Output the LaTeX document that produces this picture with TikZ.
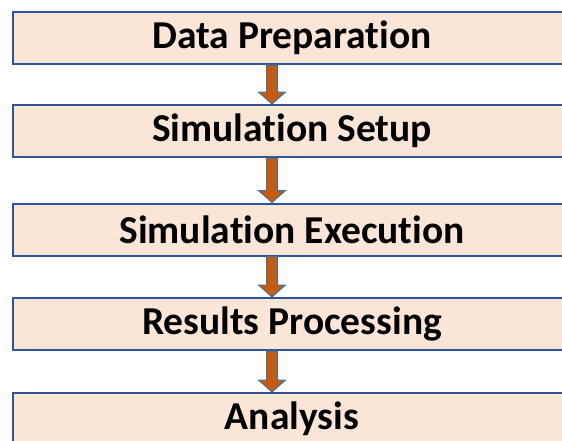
\documentclass[tikz,border=0pt]{standalone}
\usepackage{fontspec}
\setmainfont[Ligatures=NoCommon]{Carlito}
\usetikzlibrary{calc}
\definecolor{boxfill}{HTML}{FBE5D6}
\definecolor{boxline}{HTML}{2F5597}
\definecolor{arrowfill}{HTML}{C55A11}
\definecolor{arrowline}{HTML}{41719C}
\newcommand{\flowarrow}[2]{%
  \draw [flow] let \p1=($(#1.south)+(-20,0)$), \p2=($(#2.north)+(-20,0)$) in
    (\x1-5.5pt,\y1) -- (\x1+5.5pt,\y1) -- (\x1+5.5pt,\y2+12pt)
    -- (\x1+13.5pt,\y2+12pt) -- (\x2,\y2) -- (\x1-13.5pt,\y2+12pt)
    -- (\x1-5.5pt,\y2+12pt) -- cycle;}

\begin{document}
\begin{tikzpicture}[x=1pt,y=1pt]
    \tikzset{%
      stage/.style={rectangle, draw=boxline, fill=boxfill, line width=2pt,
        minimum width=558pt, minimum height=52pt, inner sep=0pt,
        font=\fontsize{39.5}{42}\selectfont\bfseries},
      flow/.style={draw=arrowline, fill=arrowfill, line width=1pt,
        line join=miter},
    }
    \clip (0,0) rectangle (562,-440);
    \node[stage] (S1) at (292,-38) {Data Preparation};
    \node[stage] (S2) at (292,-131) {Simulation Setup};
    \node[stage] (S3) at (292,-229.5) {Simulation Execution};
    \node[stage] (S4) at (292,-324) {Results Processing};
    \node[stage] (S5) at (292,-419) {Analysis};

    \flowarrow{S1}{S2}
    \flowarrow{S2}{S3}
    \flowarrow{S3}{S4}
    \flowarrow{S4}{S5}
\end{tikzpicture}
\end{document}
